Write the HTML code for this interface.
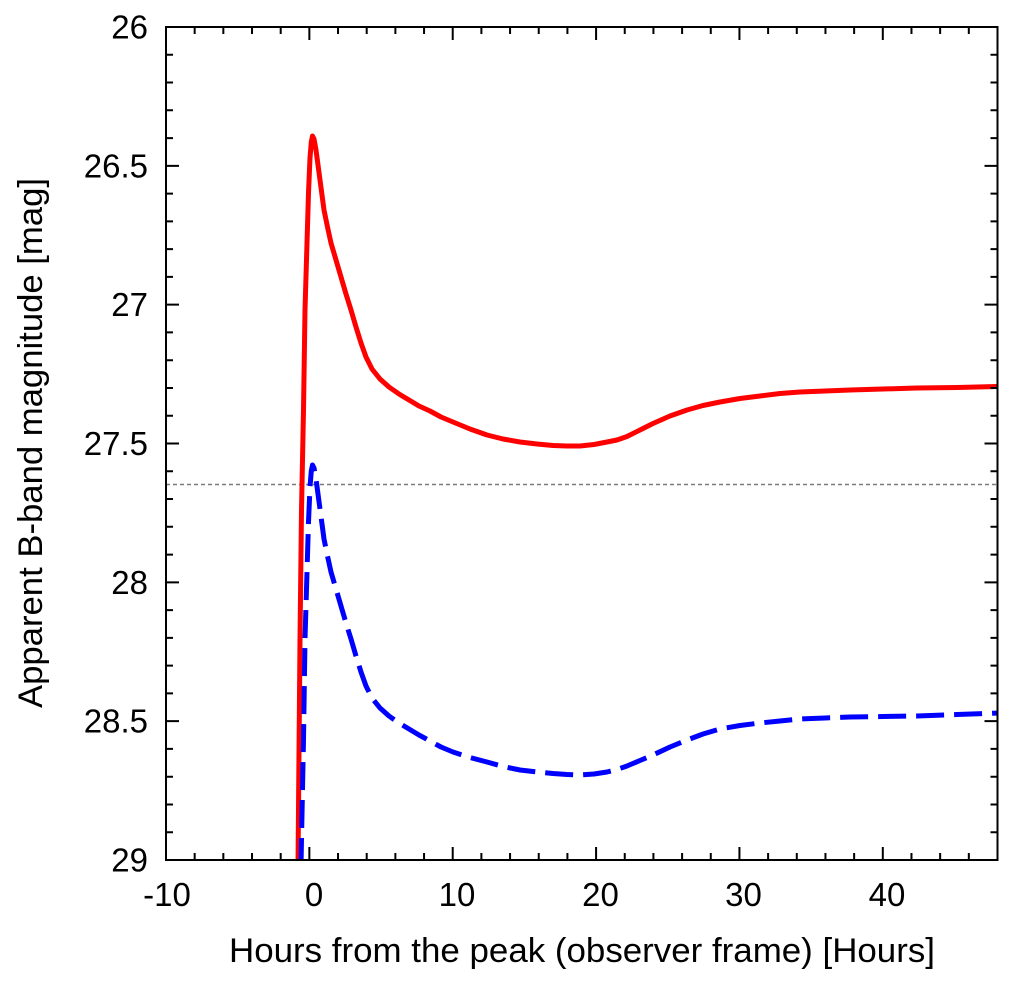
<!DOCTYPE html>
<html>
<head>
<meta charset="utf-8">
<style>
  html, body { margin: 0; padding: 0; background: #ffffff; }
  svg { display: block; }
  text { font-family: "Liberation Sans", "DejaVu Sans", sans-serif; fill: #000; }
</style>
</head>
<body>
<svg width="1014" height="982" viewBox="0 0 1014 982" xmlns="http://www.w3.org/2000/svg">
  <defs>
    <clipPath id="plot">
      <rect x="166" y="27" width="831.5" height="833"/>
    </clipPath>
  </defs>
  <rect x="0" y="0" width="1014" height="982" fill="#ffffff"/>

  <!-- dotted reference line -->
  <line x1="166" y1="484.5" x2="997.5" y2="484.5" stroke="#7a7a7a" stroke-width="1.4" stroke-dasharray="4 3"/>

  <g clip-path="url(#plot)" fill="none" stroke-linejoin="round">
    <!-- red solid curve -->
    <polyline stroke="#ff0000" stroke-width="5" points="
      298,866 300,640 301.5,510 303.5,410 305,310 307,243 308.5,193 310,158 311.3,142 312.5,136
      314,139 316,150 318,165 320,180 322,195 324,210 327.5,227 331,243 336,260 341,277 346,294
      351,310 356,327 361,343 366,357 372,369 380,379 389,387 399,394 409,400 419,406 430,411
      441,417 453,422 470,429 487,435 503,439 520,442 537,444 553,445.5 567,446 580,446 594,444.5
      607,442 617,440 627,436.5 640,430 653,423.5 670,416 687,410 703,405.5 720,402 740,398.5
      760,396 780,393.5 800,392 825,391 850,390 883,389 917,388 957,387.5 1000,386.5"/>
    <!-- blue dashed curve -->
    <polyline stroke="#0000ff" stroke-width="5" stroke-dasharray="28 10" points="
      301,866 301.5,839 303.5,739 305,639 307,572 308.5,522 310,487 311.3,471 312.5,465
      314,468 316,479 318,494 320,509 322,524 324,539 327.5,556 331,572 336,589 341,606 346,623
      351,639 356,656 361,672 366,686 372,698 380,708 389,716 399,723 409,729 419,735 430,741
      441,747 453,752 470,757.5 487,762 503,766.5 520,770 537,772 553,773.5 567,774.5 580,775
      594,774 607,772 617,769.5 627,766 640,760.5 653,755 670,747 687,740 703,734 720,729
      740,725.5 760,723 780,721 800,719 825,718 850,717 883,716.5 917,716 957,714.5 1000,713"/>
  </g>

  <!-- frame -->
  <rect x="166" y="27" width="831.5" height="833" fill="none" stroke="#000" stroke-width="2"/>

  <!-- ticks -->
  <path stroke="#000" stroke-width="2" fill="none" d="
    M194.67 860v-7 M223.34 860v-7 M252.02 860v-7 M280.69 860v-7 M309.36 860v-13
    M338.03 860v-7 M366.7 860v-7 M395.38 860v-7 M424.05 860v-7 M452.72 860v-13
    M481.39 860v-7 M510.06 860v-7 M538.74 860v-7 M567.41 860v-7 M596.08 860v-13
    M624.75 860v-7 M653.42 860v-7 M682.1 860v-7 M710.77 860v-7 M739.44 860v-13
    M768.11 860v-7 M796.78 860v-7 M825.46 860v-7 M854.13 860v-7 M882.8 860v-13
    M911.47 860v-7 M940.14 860v-7 M968.82 860v-7
    M194.67 27v7 M223.34 27v7 M252.02 27v7 M280.69 27v7 M309.36 27v13
    M338.03 27v7 M366.7 27v7 M395.38 27v7 M424.05 27v7 M452.72 27v13
    M481.39 27v7 M510.06 27v7 M538.74 27v7 M567.41 27v7 M596.08 27v13
    M624.75 27v7 M653.42 27v7 M682.1 27v7 M710.77 27v7 M739.44 27v13
    M768.11 27v7 M796.78 27v7 M825.46 27v7 M854.13 27v7 M882.8 27v13
    M911.47 27v7 M940.14 27v7 M968.82 27v7
    M166 54.77h7 M166 82.53h7 M166 110.3h7 M166 138.07h7 M166 165.83h13
    M166 193.6h7 M166 221.37h7 M166 249.13h7 M166 276.9h7 M166 304.67h13
    M166 332.43h7 M166 360.2h7 M166 387.97h7 M166 415.73h7 M166 443.5h13
    M166 471.27h7 M166 499.03h7 M166 526.8h7 M166 554.57h7 M166 582.33h13
    M166 610.1h7 M166 637.87h7 M166 665.63h7 M166 693.4h7 M166 721.17h13
    M166 748.93h7 M166 776.7h7 M166 804.47h7 M166 832.23h7
    M997.5 54.77h-7 M997.5 82.53h-7 M997.5 110.3h-7 M997.5 138.07h-7 M997.5 165.83h-13
    M997.5 193.6h-7 M997.5 221.37h-7 M997.5 249.13h-7 M997.5 276.9h-7 M997.5 304.67h-13
    M997.5 332.43h-7 M997.5 360.2h-7 M997.5 387.97h-7 M997.5 415.73h-7 M997.5 443.5h-13
    M997.5 471.27h-7 M997.5 499.03h-7 M997.5 526.8h-7 M997.5 554.57h-7 M997.5 582.33h-13
    M997.5 610.1h-7 M997.5 637.87h-7 M997.5 665.63h-7 M997.5 693.4h-7 M997.5 721.17h-13
    M997.5 748.93h-7 M997.5 776.7h-7 M997.5 804.47h-7 M997.5 832.23h-7"/>

  <!-- y tick labels -->
  <g font-size="33" text-anchor="end">
    <text x="148" y="38.5">26</text>
    <text x="148" y="177.3">26.5</text>
    <text x="148" y="316.2">27</text>
    <text x="148" y="455">27.5</text>
    <text x="148" y="593.8">28</text>
    <text x="148" y="732.7">28.5</text>
    <text x="148" y="871.5">29</text>
  </g>

  <!-- x tick labels -->
  <g font-size="33" text-anchor="middle">
    <text x="167" y="906">-10</text>
    <text x="314" y="906">0</text>
    <text x="457" y="906">10</text>
    <text x="600.5" y="906">20</text>
    <text x="743.5" y="906">30</text>
    <text x="887" y="906">40</text>
  </g>

  <!-- axis titles -->
  <text x="582" y="962" font-size="34" text-anchor="middle" textLength="706" lengthAdjust="spacingAndGlyphs">Hours from the peak (observer frame) [Hours]</text>
  <text transform="translate(42,443) rotate(-90)" x="0" y="0" font-size="34" text-anchor="middle" textLength="530" lengthAdjust="spacingAndGlyphs">Apparent B-band magnitude [mag]</text>
</svg>
</body>
</html>
